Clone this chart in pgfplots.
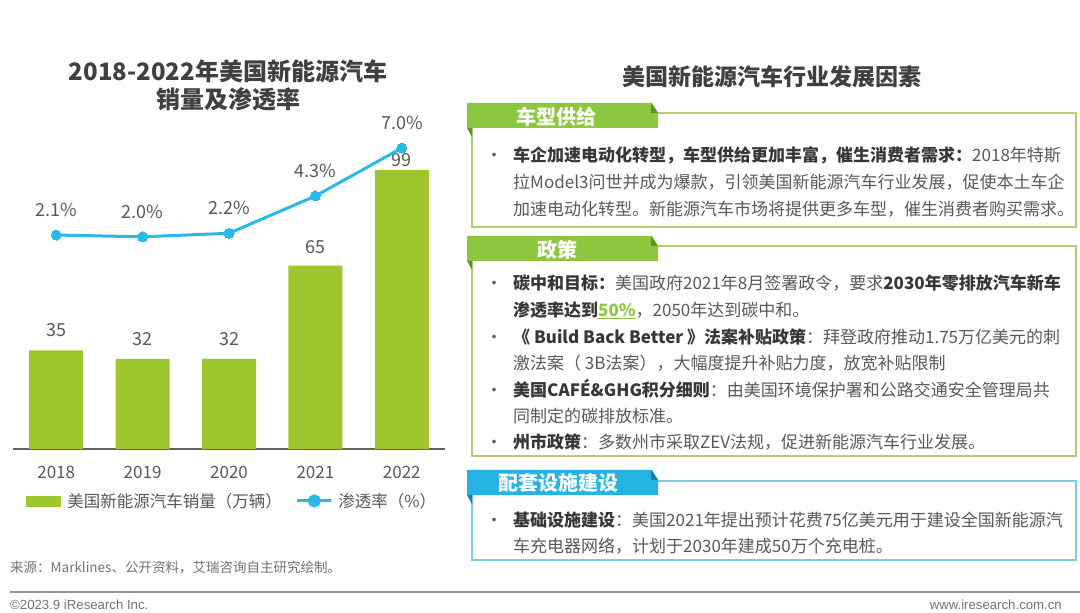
\documentclass[border=0pt]{standalone}
\usepackage{fontspec}
\usepackage{pgfplots}
\pgfplotsset{compat=1.18}
\setmainfont{Noto Sans CJK SC}
\newfontfamily\arialf{Liberation Sans}
\definecolor{bargreen}{RGB}{158,198,45}
\definecolor{linecyan}{RGB}{40,185,230}
\definecolor{tabgreen}{RGB}{141,198,63}
\definecolor{tabgreendark}{RGB}{100,145,45}
\definecolor{boxgreen}{RGB}{178,206,110}
\definecolor{tabblue}{RGB}{38,178,228}
\definecolor{tabbluedark}{RGB}{25,125,165}
\definecolor{boxblue}{RGB}{125,202,226}
\definecolor{txt}{RGB}{89,89,89}
\definecolor{txtb}{RGB}{55,55,55}
\definecolor{ttl}{RGB}{64,64,64}
\definecolor{axgray}{RGB}{100,100,100}
\definecolor{srcgray}{RGB}{115,115,115}
\definecolor{sepgray}{RGB}{150,150,150}
\newcommand{\fs}[1]{\fontsize{#1}{#1}\selectfont}
\newcommand{\B}[1]{{\bfseries\color{txtb}#1}}

\pgfplotstableread{
x y s
0 35 20
1 32 20
2 32 20
3 65 19
4 99 10
}\salestable
\pgfplotstableread{
x y
0 2.1
1 2.0
2 2.2
3 4.3
4 7.0
}\ratetable

\begin{document}
\begin{tikzpicture}[x=1pt,y=1pt]
\path[use as bounding box, fill=white] (0,0) rectangle (1080,613);

% ---------- left titles ----------
\node[anchor=base, inner sep=0pt, font=\fs{24}\bfseries, text=ttl] at (228,532) {2018-2022年美国新能源汽车};
\node[anchor=base, inner sep=0pt, font=\fs{24}\bfseries, text=ttl] at (228,504) {销量及渗透率};

% ---------- bars ----------
\begin{axis}[
  at={(13pt,164pt)}, anchor=south west, scale only axis,
  width=432pt, height=337pt, clip=false,
  xmin=-0.5, xmax=4.5, ymin=0, ymax=119.5,
  axis x line*=bottom, axis y line=none,
  x axis line style={draw=axgray, line width=1.5pt, -},
  xtick={0,1,2,3,4}, xticklabels={2018,2019,2020,2021,2022},
  major tick length=0pt,
  xticklabel style={font=\fs{17}, text=txt, anchor=center, yshift=-23pt},
  ybar, bar width=54pt,
]
\addplot[fill=bargreen, draw=none,
  point meta=explicit symbolic,
  nodes near coords,
  visualization depends on={\thisrow{s} \as \sh},
  every node near coord/.append style={anchor=center, yshift=\sh pt, font=\fs{18}, text=txt}
] table[x=x, y=y, meta=y] {\salestable};
\end{axis}

% ---------- line ----------
\begin{axis}[
  at={(13pt,164pt)}, anchor=south west, scale only axis,
  width=432pt, height=337pt, clip=false,
  xmin=-0.5, xmax=4.5, ymin=-9.95, ymax=9.03,
  hide axis,
  legend columns=2,
  legend style={at={(axis description cs:0.030,-0.154)}, anchor=west,
    draw=none, fill=none, inner sep=0pt, font=\fs{16.5}, text=txt,
    /tikz/every even column/.append style={column sep=12pt}},
]
\addlegendimage{legend image code/.code={\fill[bargreen] (0pt,-5pt) rectangle (34pt,5pt); \path[draw=none, fill=none] (34pt,0pt) -- (39pt,0pt);}}
\addplot[linecyan, line width=3pt, mark=*, mark size=5pt,
  mark options={fill=linecyan, draw=linecyan, line width=0pt},
  point meta=explicit symbolic,
  nodes near coords={\pgfplotspointmeta\%},
  every node near coord/.append style={anchor=center, yshift=25pt, font=\fs{18}, text=txt},
  legend image code/.code={\draw[linecyan, line width=3pt] (0pt,0pt) -- (34pt,0pt); \fill[linecyan] (17pt,0pt) circle (5pt); \path[draw=none, fill=none] (34pt,0pt) -- (39pt,0pt);}
] table[x=x, y=y, meta=y] {\ratetable};
\legend{美国新能源汽车销量（万辆）, 渗透率（\%）}
\end{axis}

% ---------- source & footer ----------
\node[anchor=base west, inner sep=0pt, font=\fs{13.5}, text=srcgray] at (10,40) {来源：Marklines、公开资料，艾瑞咨询自主研究绘制。};
\draw[sepgray, line width=2pt] (10,21) -- (1080,21);
\node[anchor=base west, inner sep=0pt, font=\arialf\fs{13.2}, text=srcgray] at (10,3.5) {©2023.9 iResearch Inc.};
\node[anchor=base east, inner sep=0pt, font=\arialf\fs{13.2}, text=srcgray] at (1062,3.5) {www.iresearch.com.cn};

% ---------- right title ----------
\node[anchor=base, inner sep=0pt, font=\fs{23}\bfseries, text=ttl] at (772,527.3) {美国新能源汽车行业发展因素};

% ---------- panel 1 ----------
\draw[boxgreen, line width=2pt] (472,500) rectangle (1076,386);
\fill[tabgreen] (467,510) -- (652,510) -- (658,500) -- (658,485) -- (467,485) -- cycle;
\fill[tabgreendark] (651,510) -- (658,500) -- (651,500) -- cycle;
\fill[tabgreendark] (467,485) -- (472,485) -- (472,476) -- cycle;
\node[anchor=base, inner sep=0pt, font=\fs{20}\bfseries, text=white] at (556,488.4) {车型供给};

\begin{scope}[every node/.style={anchor=base west, inner sep=0pt, font=\fs{17}, text=txt}]
\node[anchor=base] at (494,451.5) {•};
\node at (513,451.5) {\B{车企加速电动化转型，车型供给更加丰富，催生消费者需求：}2018年特斯};
\node at (513,424.5) {拉Model3问世并成为爆款，引领美国新能源汽车行业发展，促使本土车企};
\node at (513,397.5) {加速电动化转型。新能源汽车市场将提供更多车型，催生消费者购买需求。};
\end{scope}

% ---------- panel 2 ----------
\draw[boxgreen, line width=2pt] (472,367) rectangle (1076,157);
\fill[tabgreen] (467,377) -- (652,377) -- (658,367) -- (658,352) -- (467,352) -- cycle;
\fill[tabgreendark] (651,377) -- (658,367) -- (651,367) -- cycle;
\fill[tabgreendark] (467,352) -- (472,352) -- (472,343) -- cycle;
\node[anchor=base, inner sep=0pt, font=\fs{20}\bfseries, text=white] at (557,355.4) {政策};

\begin{scope}[every node/.style={anchor=base west, inner sep=0pt, font=\fs{17}, text=txt}]
\node[anchor=base] at (494,323.5) {•};
\node at (513,323.5) {\B{碳中和目标：}美国政府2021年8月签署政令，要求\B{2030年零排放汽车新车}};
\node at (513,296.5) {\B{渗透率达到}{\bfseries\color{tabgreen}\underline{50\%}}，2050年达到碳中和。};
\node[anchor=base] at (494,269.5) {•};
\node at (513,269.5) {\B{《 Build Back Better 》法案补贴政策}：拜登政府推动1.75万亿美元的刺};
\node at (513,243.5) {激法案（ 3B法案），大幅度提升补贴力度，放宽补贴限制};
\node[anchor=base] at (494,216.5) {•};
\node at (513,216.5) {\B{美国CAFÉ\&GHG积分细则}：由美国环境保护署和公路交通安全管理局共};
\node at (513,190.5) {同制定的碳排放标准。};
\node[anchor=base] at (494,164.5) {•};
\node at (513,164.5) {\B{州市政策}：多数州市采取ZEV法规，促进新能源汽车行业发展。};
\end{scope}

% ---------- panel 3 ----------
\draw[boxblue, line width=2pt] (472,132) rectangle (1076,53);
\fill[tabblue] (467,143) -- (652,143) -- (658,133) -- (658,118) -- (467,118) -- cycle;
\fill[tabbluedark] (651,143) -- (658,133) -- (651,133) -- cycle;
\fill[tabbluedark] (467,118) -- (472,118) -- (472,109) -- cycle;
\node[anchor=base, inner sep=0pt, font=\fs{20}\bfseries, text=white] at (558,122.4) {配套设施建设};

\begin{scope}[every node/.style={anchor=base west, inner sep=0pt, font=\fs{17}, text=txt}]
\node[anchor=base] at (494,86.5) {•};
\node at (513,86.5) {\B{基础设施建设}：美国2021年提出预计花费75亿美元用于建设全国新能源汽};
\node at (513,60.5) {车充电器网络，计划于2030年建成50万个充电桩。};
\end{scope}
\end{tikzpicture}
\end{document}
